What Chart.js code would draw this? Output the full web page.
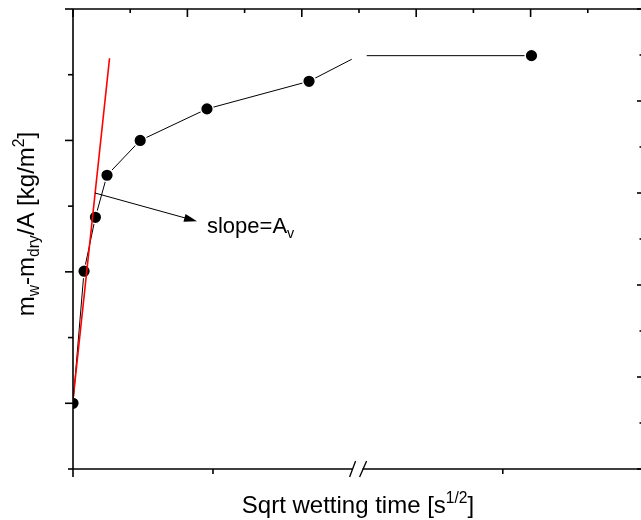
<!DOCTYPE html>
<html>
<head>
<meta charset="utf-8">
<script src="https://cdn.jsdelivr.net/npm/chart.js@4"></script>
<style>
  html, body { margin: 0; padding: 0; background: #fff; overflow: hidden; }
  #wrap { width: 641px; height: 520px; overflow: hidden; }
  canvas { display: block; }
</style>
</head>
<body>
<div id="wrap"><canvas id="absorptionChart" width="646" height="520"></canvas></div>
<script>
// measured points (axis units, bottom axis is broken after ~2)
const xVals = [0, 0.079, 0.16, 0.243, 0.48, 0.957, 1.686, 3.275];
const yVals = [1.0, 3.01, 3.83, 4.47, 5.0, 5.48, 5.9, 6.29];

// line pieces either side of the axis break
const breakLeftX = [1.686, 1.991];
const breakLeftY = [5.9, 6.235];
const breakRightX = [2.098, 3.275];
const breakRightY = [6.29, 6.29];
const breakAt = 2.04;

// initial slope (red)
const fitX = [0, 0.261];
const fitY = [1.05, 6.25];

// arrow + label
const arrowX = [0.157, 0.886];
const arrowY = [4.2, 3.77];
const labelX = 0.957;
const labelY = 3.585;

// tick values
const leftMajor = [1, 3, 5, 7];
const leftMinor = [0, 2, 4, 6];
const bottomMajor = [0];
const bottomMinor = [1, 3.07];
const frameMajor = [0, 2, 4, 6, 8, 10];
const frameMinor = [1, 3, 5, 7, 9];

const FONT = '"Liberation Sans", Arial, sans-serif';

function pts(xs, ys) {
    return xs.map((x, i) => ({ x: x, y: ys[i] }));
}

function richWidth(ctx, parts, size) {
    let w = 0;
    parts.forEach(p => {
        const s = p.sub || p.sup ? size * 0.65 : size;
        ctx.font = s + 'px ' + FONT;
        w += ctx.measureText(p.t).width;
    });
    return w;
}

function drawRich(ctx, parts, x, y, size) {
    parts.forEach(p => {
        const s = p.sub || p.sup ? size * 0.65 : size;
        let dy = 0;
        if (p.sub) dy = size * 0.22;
        if (p.sup) dy = -size * 0.42;
        ctx.font = s + 'px ' + FONT;
        ctx.fillText(p.t, x, y + dy);
        x += ctx.measureText(p.t).width;
    });
}

const framePlugin = {
    id: 'frame',
    beforeDatasetDraw(chart) {
        const a = chart.chartArea;
        chart.ctx.save();
        chart.ctx.beginPath();
        chart.ctx.rect(a.left, a.top, a.right - a.left, a.bottom - a.top);
        chart.ctx.clip();
    },
    afterDatasetDraw(chart) {
        chart.ctx.restore();
    },
    afterDatasetsDraw(chart) {
        const ctx = chart.ctx;
        const a = chart.chartArea;
        const sx = chart.scales.x, sy = chart.scales.y;
        const sxTop = chart.scales.xTop, syRight = chart.scales.yRight;
        ctx.save();
        ctx.strokeStyle = '#000';
        ctx.fillStyle = '#000';
        ctx.lineWidth = 1.6;

        const line = (x1, y1, x2, y2) => {
            ctx.beginPath(); ctx.moveTo(x1, y1); ctx.lineTo(x2, y2); ctx.stroke();
        };

        // frame, bottom axis broken
        const bx = sx.getPixelForValue(breakAt);
        line(a.left, a.top, a.right, a.top);
        line(a.left, a.top, a.left, a.bottom);
        line(a.right, a.top, a.right, a.bottom);
        line(a.left, a.bottom, bx - 6, a.bottom);
        line(bx + 4, a.bottom, a.right, a.bottom);
        ctx.lineWidth = 1.3;
        line(bx - 9, a.bottom + 8, bx - 3, a.bottom - 8);
        line(bx + 1, a.bottom + 8, bx + 8, a.bottom - 8);
        ctx.lineWidth = 1.6;

        // ticks
        leftMajor.forEach(v => { const p = sy.getPixelForValue(v); line(a.left - 8, p, a.left, p); });
        leftMinor.forEach(v => { const p = sy.getPixelForValue(v); line(a.left - 5, p, a.left, p); });
        bottomMajor.forEach(v => { const p = sx.getPixelForValue(v); line(p, a.bottom, p, a.bottom + 8); });
        bottomMinor.forEach(v => { const p = sx.getPixelForValue(v); line(p, a.bottom, p, a.bottom + 5); });
        frameMajor.forEach(v => {
            const p = sxTop.getPixelForValue(v); line(p, a.top, p, a.top + 8);
            const q = syRight.getPixelForValue(v); line(a.right - 8, q, a.right, q);
        });
        frameMinor.forEach(v => {
            const p = sxTop.getPixelForValue(v); line(p, a.top, p, a.top + 4);
            const q = syRight.getPixelForValue(v); line(a.right - 5.5, q, a.right, q);
        });

        // arrow
        const ax1 = sx.getPixelForValue(arrowX[0]), ay1 = sy.getPixelForValue(arrowY[0]);
        const ax2 = sx.getPixelForValue(arrowX[1]), ay2 = sy.getPixelForValue(arrowY[1]);
        const ang = Math.atan2(ay2 - ay1, ax2 - ax1);
        ctx.lineWidth = 1;
        line(ax1, ay1, ax2 - 10 * Math.cos(ang), ay2 - 10 * Math.sin(ang));
        ctx.beginPath();
        ctx.moveTo(ax2, ay2);
        ctx.lineTo(ax2 - 13 * Math.cos(ang) + 4 * Math.sin(ang), ay2 - 13 * Math.sin(ang) - 4 * Math.cos(ang));
        ctx.lineTo(ax2 - 13 * Math.cos(ang) - 4 * Math.sin(ang), ay2 - 13 * Math.sin(ang) + 4 * Math.cos(ang));
        ctx.closePath();
        ctx.fill();

        // texts
        ctx.textBaseline = 'alphabetic';
        ctx.textAlign = 'left';
        drawRich(ctx, [{ t: 'slope=A' }, { t: 'v', sub: true }],
            sx.getPixelForValue(labelX), sy.getPixelForValue(labelY), 22);

        const xTitle = [{ t: 'Sqrt wetting time [s' }, { t: '1/2', sup: true }, { t: ']' }];
        const xw = richWidth(ctx, xTitle, 24);
        drawRich(ctx, xTitle, 358 - xw / 2, 513, 24);

        const yTitle = [{ t: 'm' }, { t: 'w', sub: true }, { t: '-m' }, { t: 'dry', sub: true },
            { t: '/A [kg/m' }, { t: '2', sup: true }, { t: ']' }];
        const yw = richWidth(ctx, yTitle, 24);
        ctx.translate(34, 224);
        ctx.rotate(-Math.PI / 2);
        drawRich(ctx, yTitle, -yw / 2, 0, 24);
        ctx.restore();
    }
};

new Chart(document.getElementById('absorptionChart'), {
    type: 'scatter',
    data: {
        datasets: [
            {
                label: 'initial slope',
                data: pts(fitX, fitY),
                showLine: true,
                borderColor: '#ff0000',
                borderWidth: 1.6,
                pointRadius: 0,
                order: 0
            },
            {
                label: 'mass gain',
                data: pts(xVals, yVals),
                showLine: true,
                borderColor: '#000',
                borderWidth: 1,
                pointRadius: 6.3,
                pointBackgroundColor: '#000',
                pointBorderColor: '#fff',
                pointBorderWidth: 1.4,
                segment: {
                    borderColor: c => c.p1DataIndex === xVals.length - 1 ? 'rgba(0,0,0,0)' : '#000'
                },
                order: 1
            },
            {
                label: 'before break',
                data: pts(breakLeftX, breakLeftY),
                showLine: true,
                borderColor: '#000',
                borderWidth: 1,
                pointRadius: 0,
                order: 2
            },
            {
                label: 'after break',
                data: pts(breakRightX, breakRightY),
                showLine: true,
                borderColor: '#000',
                borderWidth: 1,
                pointRadius: 0,
                order: 2
            }
        ]
    },
    options: {
        responsive: false,
        animation: false,
        events: [],
        layout: { autoPadding: false, padding: { left: 73, top: 9, right: 1, bottom: 51 } },
        plugins: { legend: { display: false }, tooltip: { enabled: false } },
        scales: {
            x: { type: 'linear', min: 0, max: 4.086, display: false },
            y: { type: 'linear', min: 0, max: 7, display: false },
            xTop: { type: 'linear', position: 'top', min: 0, max: 10, display: false },
            yRight: { type: 'linear', position: 'right', min: 0, max: 10, display: false }
        }
    },
    plugins: [framePlugin]
});
</script>
</body>
</html>
